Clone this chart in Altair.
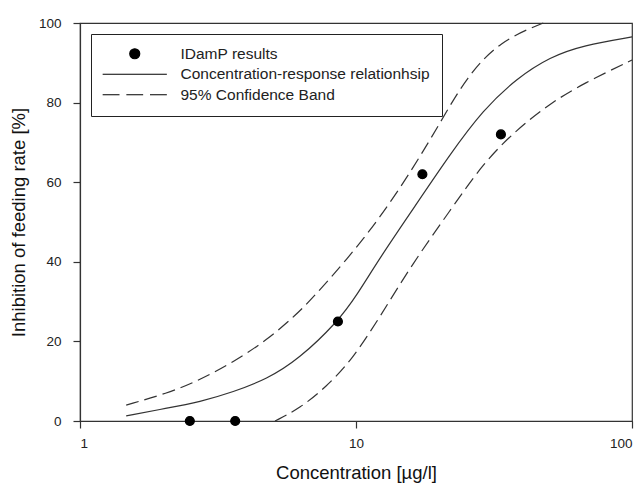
import altair as alt
import pandas as pd

# Measured feeding inhibition (IDamP)
conc_points = [2.5, 3.65, 8.6, 17.4, 33.5]
inhib_points = [0, 0, 25, 62, 72]

# Fitted concentration-response curve
fit_conc = [1.47, 2.06, 2.72, 3.59, 4.75, 6.2, 8.6, 10.05, 12.2, 16.3, 21.9, 28.9, 38.2, 50.5, 66.6, 100]
fit_resp = [1.3, 3.2, 4.8, 7.3, 10.5, 15.5, 25.0, 31.5, 41.0, 53.8, 67.0, 78.2, 86.1, 91.5, 94.4, 96.5]

# 95% confidence band, upper limit
upper_conc = [1.47, 2.06, 2.72, 3.59, 4.75, 6.1, 7.0, 9.25, 12.2, 16.1, 20.4, 25.2, 33.2, 47.7]
upper_resp = [4.0, 6.9, 10.3, 14.8, 20.3, 26.8, 31.1, 40.5, 51.0, 63.5, 75.5, 86.5, 95.5, 100.0]

# 95% confidence band, lower limit
lower_conc = [5.09, 6.27, 7.8, 9.64, 12.2, 16.1, 21.9, 28.9, 38.2, 50.5, 66.6, 100]
lower_resp = [0.0, 3.2, 8.6, 15.25, 26.1, 39.8, 52.8, 64.8, 73.2, 79.8, 84.8, 90.7]

series_names = ["IDamP results", "Concentration-response relationhsip", "95% Confidence Band"]

FONT = "Liberation Sans"
INK = "#333333"

points = pd.DataFrame({"conc": conc_points, "inhib": inhib_points, "series": series_names[0]})
fit = pd.DataFrame({"conc": fit_conc, "inhib": fit_resp})
band = pd.concat([
    pd.DataFrame({"conc": upper_conc, "inhib": upper_resp, "limit": "upper"}),
    pd.DataFrame({"conc": lower_conc, "inhib": lower_resp, "limit": "lower"}),
])

x_enc = alt.X(
    "conc:Q",
    scale=alt.Scale(type="log", domain=[1, 100]),
    axis=alt.Axis(title="Concentration [µg/l]", values=[1, 10, 100], format="~g"),
)
y_enc = alt.Y(
    "inhib:Q",
    scale=alt.Scale(domain=[0, 100]),
    axis=alt.Axis(title="Inhibition of feeding rate [%]", values=[0, 20, 40, 60, 80, 100]),
)

# legend symbols: dot, solid stroke, dashed stroke
solid_path = "M-6.42,0H6.42"
dash_path = "M-6.42,0H-3.05M-1.68,0H1.68M3.05,0H6.42"

fit_line = alt.Chart(fit).mark_line(
    interpolate="basis", color=INK, strokeWidth=1.2
).encode(x=x_enc, y=y_enc)

band_lines = alt.Chart(band).mark_line(
    interpolate="basis", color=INK, strokeWidth=1.2, strokeDash=[13, 6]
).encode(x=x_enc, y=y_enc, detail="limit:N")

dots = alt.Chart(points).mark_point(
    filled=False, fill="black", stroke="black", color="black", strokeWidth=1.2, size=80, opacity=1
).encode(
    x=x_enc,
    y=y_enc,
    shape=alt.Shape(
        "series:N",
        scale=alt.Scale(domain=series_names, range=["circle", solid_path, dash_path]),
        legend=alt.Legend(
            title=None,
            orient="none",
            legendX=11,
            legendY=11,
            padding=12,
            strokeColor="#222222",
            fillColor="white",
            labelFont=FONT,
            labelFontSize=15.5,
            labelColor="#222222",
            labelOffset=38,
            symbolOffset=24,
            symbolStrokeWidth=1.2,
            rowPadding=3.5,
            labelLimit=400,
        ),
    ),
)

chart = alt.layer(fit_line, band_lines, dots).properties(
    width=552,
    height=398,
    padding={"left": 80, "top": 23, "right": 12, "bottom": 65},
    autosize=alt.AutoSizeParams(type="none"),
    background="white",
).configure_view(
    stroke=INK, strokeWidth=1.2
).configure_axis(
    grid=False,
    domainColor=INK,
    domainWidth=1.2,
    tickColor=INK,
    tickWidth=1.2,
    tickSize=7,
    labelFont=FONT,
    labelFontSize=13.5,
    labelColor="#222222",
    titleFont=FONT,
    titleFontSize=18.5,
    titleFontWeight="normal",
    titleColor="#111111",
).configure_axisX(
    labelPadding=8, titlePadding=14
).configure_axisY(
    labelPadding=12, titlePadding=10
)

chart.save("out.html", embed_options={"renderer": "svg", "actions": False})
